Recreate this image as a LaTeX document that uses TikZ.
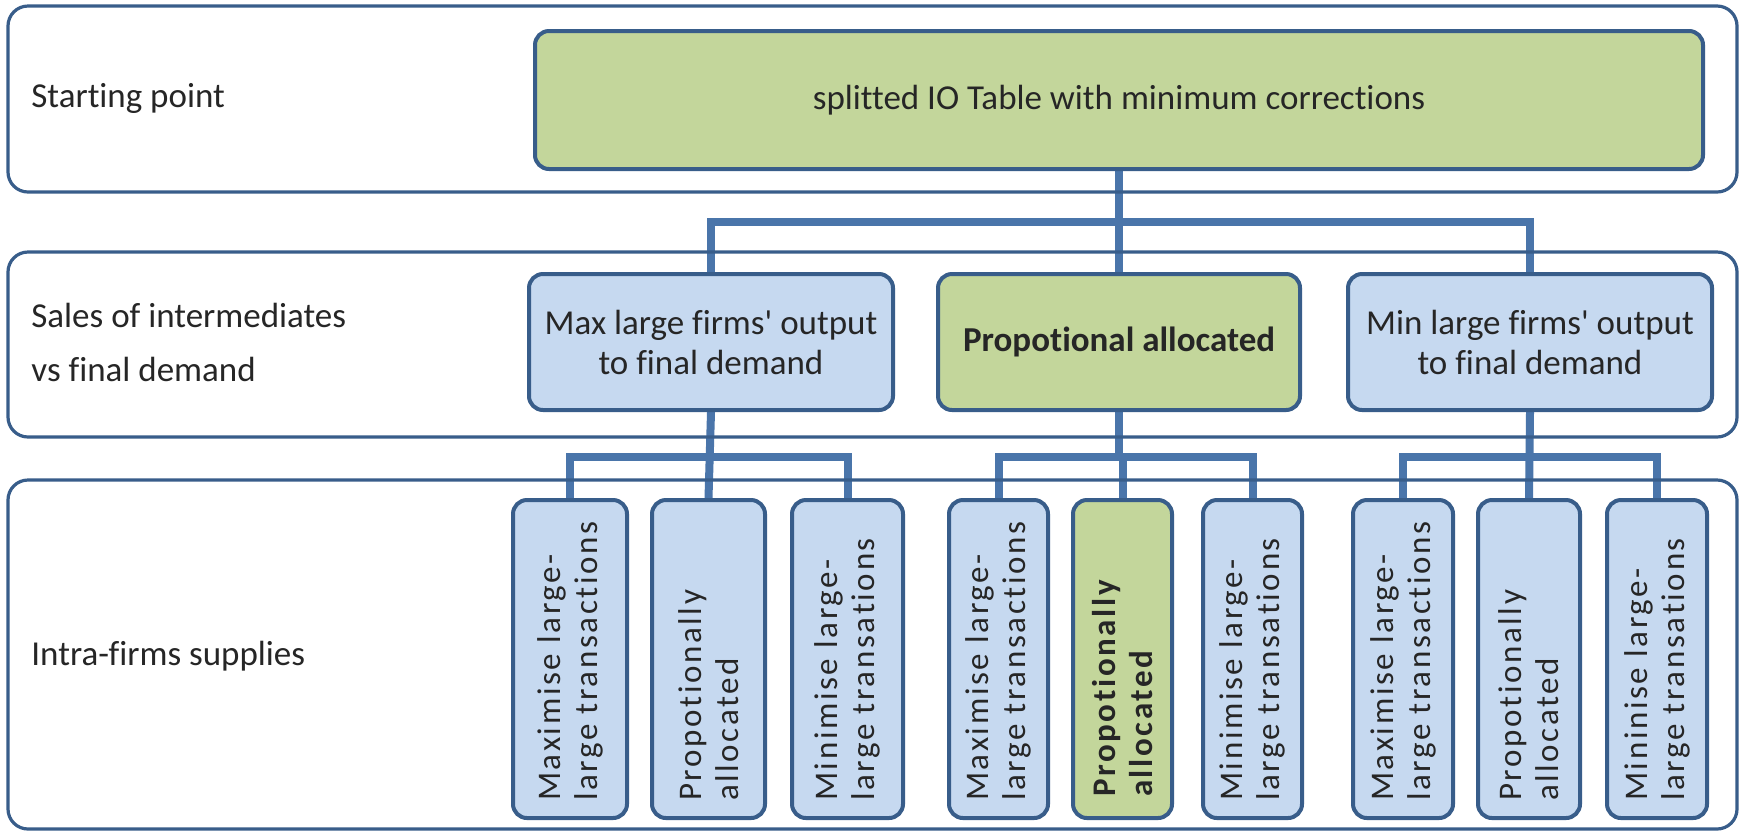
\documentclass[tikz,border=0pt]{standalone}
\usepackage{fontspec}
\setmainfont{Carlito}[Ligatures={TeX,NoCommon}]
\newfontfamily\spacedfont{Carlito}[Ligatures={TeX,NoCommon},LetterSpace=8]
\usetikzlibrary{fit,backgrounds}
\definecolor{bordc}{RGB}{56,93,138}
\definecolor{connc}{RGB}{74,117,170}
\definecolor{bluef}{RGB}{198,217,240}
\definecolor{greenf}{RGB}{195,214,155}
\begin{document}
\begin{tikzpicture}[x=0.5pt,y=-0.5pt,
  band/.style={draw=bordc, line width=1.6pt, rounded corners=10pt, inner sep=0pt},
  bbox/.style={draw=bordc, line width=2pt, rounded corners=7pt, fill=bluef, inner sep=0pt},
  gbox/.style={bbox, fill=greenf},
  conn/.style={draw=connc, line width=4pt},
  txt/.style={font=\fontsize{17.5}{20}\selectfont, align=center, text=black!85},
  lbl/.style={font=\fontsize{17.5}{20}\selectfont, anchor=west, align=left, inner sep=0pt, text=black!85},
  vtxt/.style={font=\spacedfont\fontsize{16.5}{18.5}\selectfont, align=left, rotate=90, anchor=west, text=black!85}
]
% bands
\node[band, fit={(8,6)(1737,192)}] (b1) {};
\node[band, fit={(8,252)(1737,437)}] (b2) {};
\node[band, fit={(8,480)(1737,829)}] (b3) {};
\node[lbl] (l1) at (31,98) {Starting point};
\node[lbl] (l2) at (31,342) {Sales of intermediates\\[7pt]vs final demand};
\node[lbl] (l3) at (31,656) {Intra-firms supplies};
% top box
\node[gbox, fit={(535,31)(1703,169)}] (top) {};
\node[txt] at (top.center) {splitted IO Table with minimum corrections};
% middle boxes
\node[bbox, fit={(529,274)(893,410)}] (m1) {};
\node[gbox, fit={(938,274)(1300,410)}] (m2) {};
\node[bbox, fit={(1348,274)(1712,410)}] (m3) {};
\node[txt] at (m1.center) {Max large firms\textquotesingle{} output\\to final demand};
\node[txt, font=\fontsize{17.5}{20}\selectfont\bfseries] at (m2.center) {Propotional allocated};
\node[txt] at (m3.center) {Min large firms\textquotesingle{} output\\to final demand};
% bottom boxes
\node[bbox, fit={(513,500)(627,818)}] (s11) {};
\node[bbox, fit={(652,500)(765,818)}] (s12) {};
\node[bbox, fit={(792,500)(903,818)}] (s13) {};
\node[bbox, fit={(949,500)(1048,818)}] (s21) {};
\node[gbox, fit={(1073,500)(1172,818)}] (s22) {};
\node[bbox, fit={(1203,500)(1302,818)}] (s23) {};
\node[bbox, fit={(1353,500)(1453,818)}] (s31) {};
\node[bbox, fit={(1478,500)(1580,818)}] (s32) {};
\node[bbox, fit={(1607,500)(1707,818)}] (s33) {};
\node[vtxt] at ([yshift=6pt]s11.south) {Maximise large-\\large transactions};
\node[vtxt] at ([yshift=6pt]s12.south) {Propotionally\\allocated};
\node[vtxt] at ([yshift=6pt]s13.south) {Minimise large-\\large transations};
\node[vtxt] at ([yshift=6pt]s21.south) {Maximise large-\\large transactions};
\node[vtxt, font=\spacedfont\fontsize{16.5}{18.5}\selectfont\bfseries] at ([yshift=8pt]s22.south) {Propotionally\\allocated};
\node[vtxt] at ([yshift=6pt]s23.south) {Minimise large-\\large transations};
\node[vtxt] at ([yshift=6pt]s31.south) {Maximise large-\\large transactions};
\node[vtxt] at ([yshift=6pt]s32.south) {Propotionally\\allocated};
\node[vtxt] at ([yshift=6pt]s33.south) {Mininise large-\\large transations};
% connectors
\coordinate (h1) at (0,222);
\coordinate (h2) at (0,457);
\begin{scope}[on background layer]
\fill[white] (0,0) rectangle (1744,832);
\draw[conn] (top.south) -- (m2.north);
\draw[conn] (m1.north) -- (m1.north |- h1) -- (m3.north |- h1) -- (m3.north);
\draw[conn] (m1.south) -- (s12.north);
\draw[conn] (s11.north) -- (s11.north |- h2) -- (s13.north |- h2) -- (s13.north);
\draw[conn] (m2.south) -- (m2.south |- h2);
\draw[conn] (s21.north) -- (s21.north |- h2) -- (s23.north |- h2) -- (s23.north);
\draw[conn] (s22.north) -- (s22.north |- h2);
\draw[conn] (m3.south) -- (s32.north);
\draw[conn] (s31.north) -- (s31.north |- h2) -- (s33.north |- h2) -- (s33.north);
\end{scope}
\end{tikzpicture}
\end{document}
